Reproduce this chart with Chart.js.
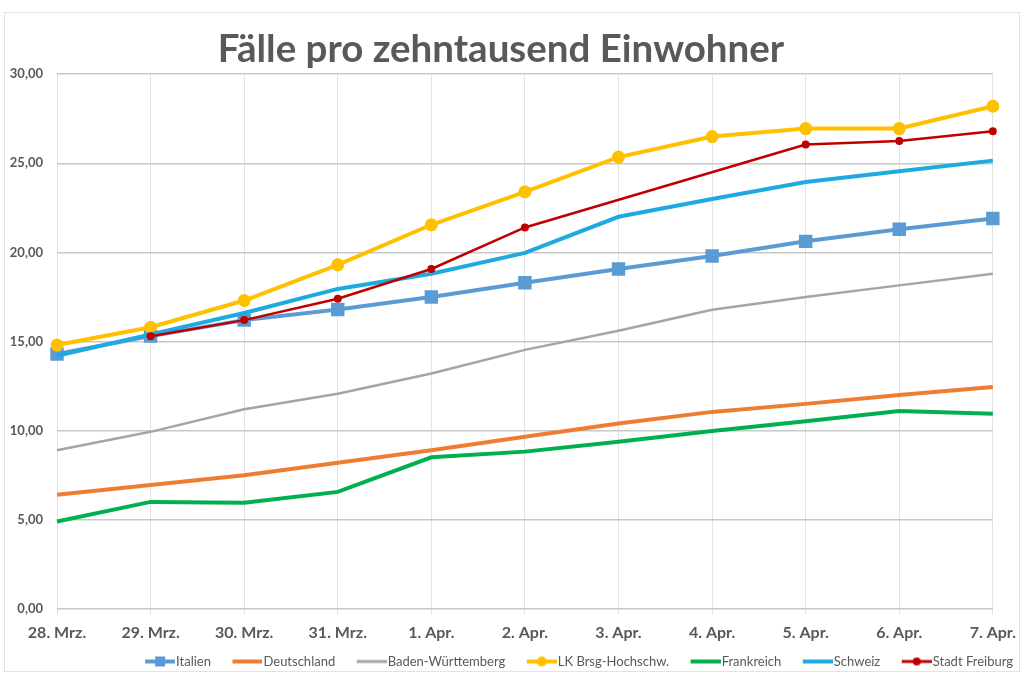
<!DOCTYPE html>
<html>
<head>
<meta charset="utf-8">
<script src="https://cdn.jsdelivr.net/npm/chart.js@4"></script>
<style>
  html, body { margin: 0; padding: 0; background: #ffffff; }
  #wrap { position: absolute; left: 0; top: 0; width: 1024px; height: 683px; }
  #frame { position: absolute; left: 4px; top: 12px; width: 1016px; height: 660px; border: 1px solid #e3e3e3; box-sizing: border-box; }
  canvas { position: absolute; left: 0; top: 0; }
</style>
</head>
<body>
<div id="wrap">
  <div id="frame"></div>
  <canvas id="c" width="1024" height="683"></canvas>
</div>
<script>
const categories = ['28. Mrz.', '29. Mrz.', '30. Mrz.', '31. Mrz.', '1. Apr.', '2. Apr.', '3. Apr.', '4. Apr.', '5. Apr.', '6. Apr.', '7. Apr.'];
const italien = [14.3, 15.3, 16.2, 16.8, 17.5, 18.3, 19.07, 19.8, 20.62, 21.3, 21.9];
const deutschland = [6.4, 6.95, 7.5, 8.2, 8.9, 9.65, 10.4, 11.05, 11.5, 12.0, 12.45];
const badenWuerttemberg = [8.9, 9.93, 11.2, 12.07, 13.2, 14.53, 15.6, 16.78, 17.5, 18.15, 18.8];
const lkBrsg = [14.8, 15.8, 17.3, 19.3, 21.55, 23.4, 25.35, 26.5, 26.95, 26.95, 28.2];
const frankreich = [4.9, 6.0, 5.95, 6.56, 8.5, 8.82, 9.37, 9.98, 10.52, 11.1, 10.95];
const schweiz = [14.2, 15.4, 16.6, 17.95, 18.8, 19.97, 22.0, 23.0, 23.95, 24.55, 25.15];
const stadtFreiburg = [null, 15.3, 16.2, 17.4, 19.07, 21.4, null, null, 26.05, 26.25, 26.8];
const seriesNames = ['Italien', 'Deutschland', 'Baden-Württemberg', 'LK Brsg-Hochschw.', 'Frankreich', 'Schweiz', 'Stadt Freiburg'];
const yTickLabels = ['0,00', '5,00', '10,00', '15,00', '20,00', '25,00', '30,00'];
const titleText = 'Fälle pro zehntausend Einwohner';

const TXT = '#595959';
const FONT = 'Lato, "Open Sans", sans-serif';

function legendIcon(color, lw, marker, size) {
  const c = document.createElement('canvas');
  c.width = 52; c.height = 14;
  const x = c.getContext('2d');
  x.strokeStyle = color; x.lineWidth = lw; x.lineCap = 'butt';
  x.beginPath(); x.moveTo(22, 7); x.lineTo(52, 7); x.stroke();
  x.fillStyle = color;
  if (marker === 'rect') { x.fillRect(37 - size / 2, 7 - size / 2, size, size); }
  else if (marker === 'circle') { x.beginPath(); x.arc(37, 7, size / 2, 0, Math.PI * 2); x.fill(); }
  return c;
}

const styles = [
  { color: '#5B9BD5', lw: 4, ps: 'rect', r: 9.5, legend: legendIcon('#5B9BD5', 4, 'rect', 10) },
  { color: '#ED7D31', lw: 4, ps: 'circle', r: 0, legend: legendIcon('#ED7D31', 4) },
  { color: '#A5A5A5', lw: 2.5, ps: 'circle', r: 0, legend: legendIcon('#A5A5A5', 3) },
  { color: '#FFC000', lw: 4, ps: 'circle', r: 6.5, legend: legendIcon('#FFC000', 4, 'circle', 10) },
  { color: '#00B050', lw: 4, ps: 'circle', r: 0, legend: legendIcon('#00B050', 4) },
  { color: '#1FA9E1', lw: 4, ps: 'circle', r: 0, legend: legendIcon('#1FA9E1', 4) },
  { color: '#C00000', lw: 2.5, ps: 'circle', r: 4, legend: legendIcon('#C00000', 3, 'circle', 8) }
];
const dataArrays = [italien, deutschland, badenWuerttemberg, lkBrsg, frankreich, schweiz, stadtFreiburg];

const datasets = dataArrays.map((d, i) => ({
  label: seriesNames[i],
  data: d,
  borderColor: styles[i].color,
  backgroundColor: styles[i].color,
  borderWidth: styles[i].lw,
  pointStyle: styles[i].ps,
  pointRadius: styles[i].r,
  pointBorderWidth: 0,
  pointBackgroundColor: styles[i].color,
  pointHoverRadius: styles[i].r,
  tension: 0,
  spanGaps: true,
  order: 10 - i
}));

new Chart(document.getElementById('c'), {
  type: 'line',
  data: { labels: categories, datasets },
  options: {
    responsive: false,
    animation: false,
    layout: { padding: { left: -16, right: 6, top: 20, bottom: 5 } },
    plugins: {
      title: {
        display: true,
        text: titleText,
        color: TXT,
        font: { family: FONT, size: 38.5, weight: 'bold' },
        padding: { top: 6, bottom: 2 }
      },
      legend: {
        position: 'bottom',
        align: 'end',
        labels: {
          color: TXT,
          font: { family: FONT, size: 13 },
          usePointStyle: true,
          pointStyleWidth: 41,
          padding: 5,
          generateLabels: (chart) => chart.data.datasets.map((ds, i) => ({
            text: ds.label,
            pointStyle: styles[i].legend,
            fillStyle: ds.borderColor,
            strokeStyle: ds.borderColor,
            lineWidth: 0,
            fontColor: TXT,
            datasetIndex: i,
            hidden: false
          }))
        }
      },
      tooltip: { enabled: false }
    },
    scales: {
      x: {
        offset: false,
        grid: { color: '#e3e3e3', lineWidth: 1, tickLength: 6, drawTicks: true },
        border: { color: '#c8c8c8', width: 1 },
        ticks: { color: TXT, font: { family: FONT, size: 16, weight: 'bold' }, padding: 8, maxRotation: 0, autoSkip: false }
      },
      y: {
        min: 0, max: 30,
        ticks: {
          stepSize: 5,
          color: TXT,
          font: { family: FONT, size: 13, weight: 'bold' },
          padding: 14,
          callback: (v) => yTickLabels[Math.round(v / 5)]
        },
        grid: { color: '#c8c8c8', lineWidth: 1.5, drawTicks: false },
        border: { display: false },
        afterFit: (s) => { s.width = 73; }
      },
      yRight: {
        position: 'right',
        min: 0, max: 30,
        ticks: { display: false },
        grid: { display: false, drawOnChartArea: false },
        border: { display: false },
        afterFit: (s) => { s.width = 25; }
      }
    }
  }
});
</script>
</body>
</html>
